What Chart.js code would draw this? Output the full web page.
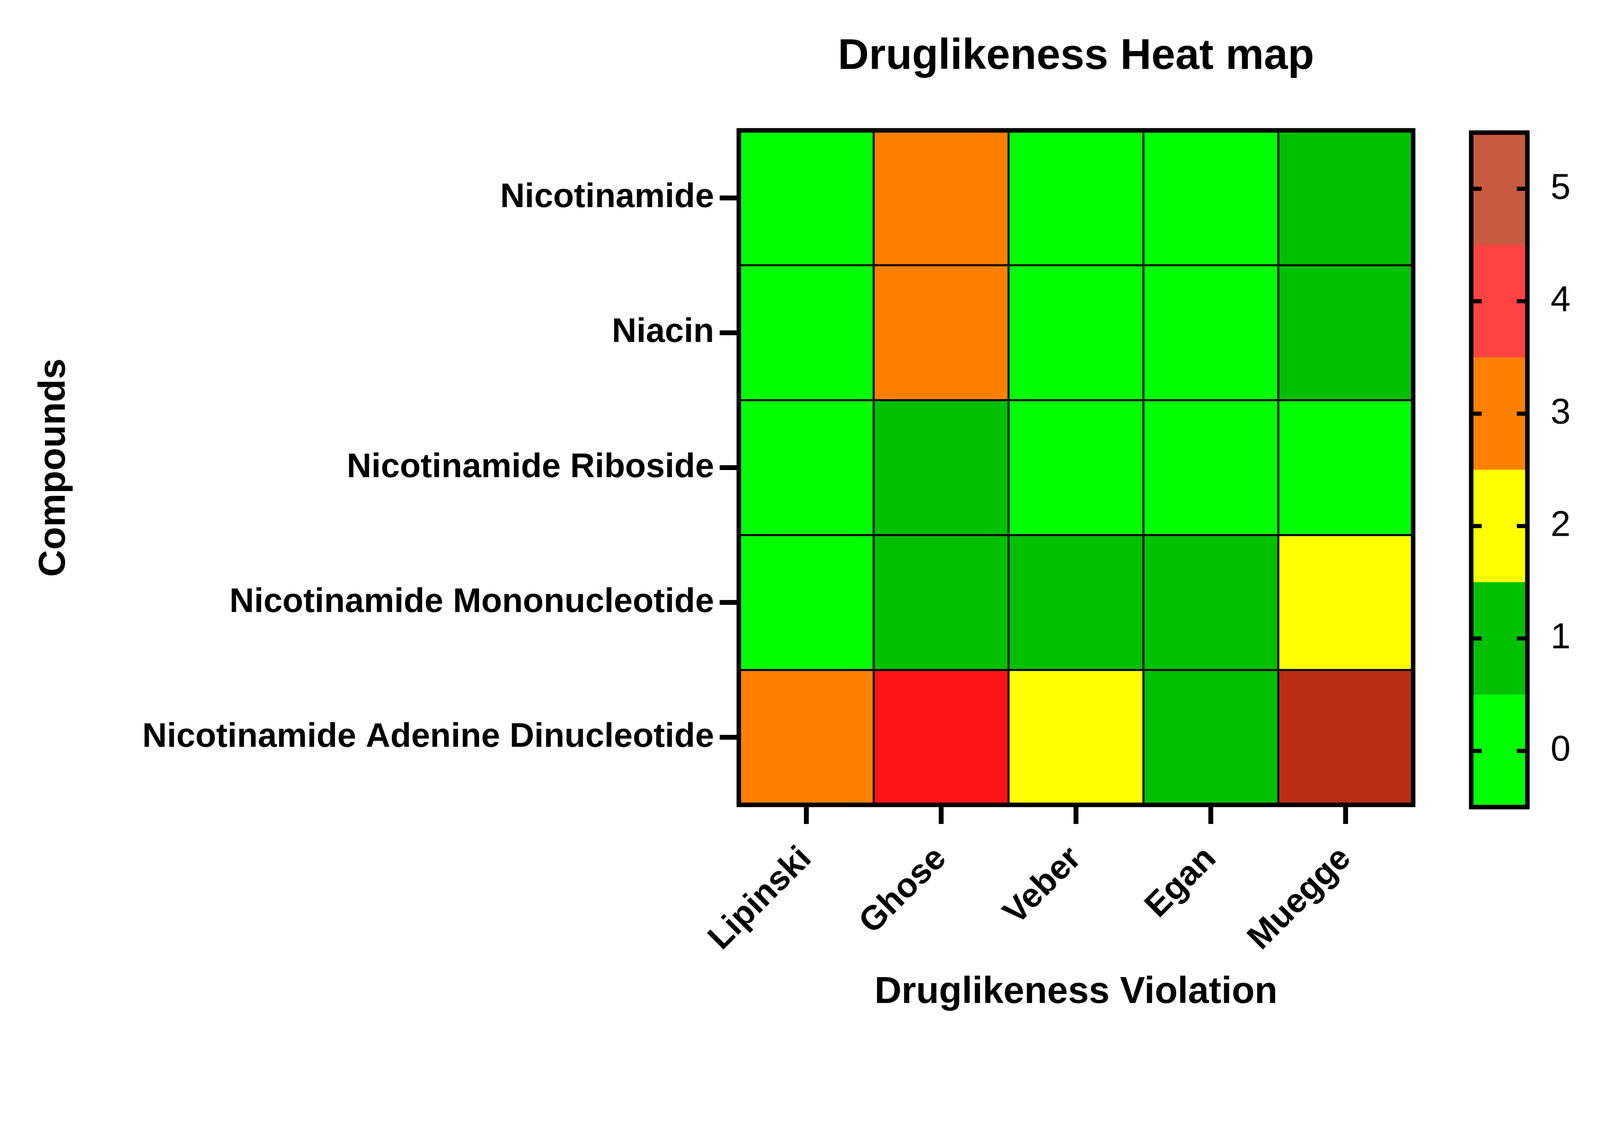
<!DOCTYPE html>
<html>
<head>
<meta charset="utf-8">
<title>Druglikeness Heat map</title>
<script src="https://cdn.jsdelivr.net/npm/chart.js@4.4.1/dist/chart.umd.min.js"></script>
<style>
  html, body { margin: 0; padding: 0; overflow: hidden; background: #fff; }
  #wrap { position: relative; width: 4273px; height: 2900px; }
  canvas { position: absolute; left: 0; top: 0; width: 100% !important; height: 100% !important; }
</style>
</head>
<body>
<div id="wrap">
  <canvas id="heat" width="4273" height="2900"></canvas>
  <canvas id="key" width="4273" height="2900"></canvas>
</div>
<script>
const rules = ['Lipinski', 'Ghose', 'Veber', 'Egan', 'Muegge'];
const compounds = ['Nicotinamide', 'Niacin', 'Nicotinamide Riboside',
  'Nicotinamide Mononucleotide', 'Nicotinamide Adenine Dinucleotide'];

// violations per rule, one array per compound (top row first)
const nicotinamide = [0, 3, 0, 0, 1];
const niacin = [0, 3, 0, 0, 1];
const riboside = [0, 1, 0, 0, 0];
const mononucleotide = [0, 1, 1, 1, 2];
const nad = [3, 4, 2, 1, 5];

const keyTicks = [0, 1, 2, 3, 4, 5];

// colours as they appear in the cells and in the colour bar
const cellColors = ['#00ff00', '#00c000', '#ffff00', '#ff8000', '#ff1515', '#bb2e12'];
const keyColors = ['#00ff00', '#00c000', '#ffff00', '#ff8000', '#ff4343', '#c85a40'];

const rows = [nicotinamide, niacin, riboside, mononucleotide, nad];

// fit the drawing to the visible width, keep the 4273x2900 aspect
const wrap = document.getElementById('wrap');
const viewW = document.documentElement.clientWidth || window.innerWidth || 4273;
wrap.style.width = viewW + 'px';
wrap.style.height = (viewW * 2900 / 4273) + 'px';

Chart.defaults.font.family = "'Liberation Sans', Arial, sans-serif";
Chart.defaults.color = '#000';

const frame = {
  id: 'frame',
  afterDraw(chart) {
    const {ctx, chartArea: a} = chart;
    ctx.save();
    ctx.lineWidth = 12;
    ctx.strokeStyle = '#000';
    ctx.strokeRect(a.left, a.top, a.right - a.left, a.bottom - a.top);
    ctx.restore();
  }
};

const inwardTicks = {
  id: 'inwardTicks',
  afterDatasetsDraw(chart) {
    const {ctx, chartArea: a, scales: {y}} = chart;
    ctx.save();
    ctx.lineWidth = 11;
    ctx.strokeStyle = '#000';
    keyTicks.forEach(v => {
      const py = y.getPixelForValue(v);
      ctx.beginPath();
      ctx.moveTo(a.left, py);
      ctx.lineTo(a.left + 28, py);
      ctx.moveTo(a.right - 28, py);
      ctx.lineTo(a.right, py);
      ctx.stroke();
    });
    ctx.restore();
  }
};

new Chart(document.getElementById('heat'), {
  type: 'bar',
  data: {
    labels: rules,
    datasets: rows.map((vals, i) => ({
      label: compounds[i],
      data: vals.map(() => [i, i + 1]),
      backgroundColor: vals.map(v => cellColors[v]),
      borderColor: '#000',
      borderWidth: 3,
      borderSkipped: false,
      barPercentage: 1,
      categoryPercentage: 1,
      grouped: false
    }))
  },
  options: {
    responsive: false,
    devicePixelRatio: 1,
    animation: false,
    layout: { padding: { left: 0, top: 0, right: 499, bottom: 0 } },
    plugins: {
      legend: { display: false },
      tooltip: { enabled: false },
      title: {
        display: true,
        text: 'Druglikeness Heat map',
        fullSize: false,
        color: '#000',
        font: { size: 115, weight: 'bold' },
        padding: { top: 83, bottom: 127 }
      }
    },
    scales: {
      x: {
        type: 'category',
        afterFit: s => { s.height = 751; },
        border: { display: false },
        grid: { offset: false, drawOnChartArea: false, tickLength: 51, tickWidth: 13, tickColor: '#000' },
        ticks: {
          autoSkip: false, maxRotation: 45, minRotation: 45, padding: 40,
          color: '#000', font: { size: 91, weight: 'bold' }
        },
        title: {
          display: true, text: 'Druglikeness Violation', color: '#000',
          font: { size: 100, weight: 'bold' }, padding: { top: 0, bottom: 190 }
        }
      },
      y: {
        type: 'linear',
        min: 0,
        max: 5,
        reverse: true,
        afterFit: s => { s.width = 1973; },
        afterBuildTicks: s => { s.ticks = compounds.map((c, i) => ({ value: i + 0.5 })); },
        border: { display: false },
        grid: { drawOnChartArea: false, tickLength: 51, tickWidth: 13, tickColor: '#000' },
        ticks: {
          padding: 15, color: '#000', font: { size: 91, weight: 'bold' },
          callback: v => compounds[Math.floor(v)]
        },
        title: {
          display: true, text: 'Compounds', color: '#000',
          font: { size: 100, weight: 'bold' }, padding: { top: 85, bottom: 0 }
        }
      }
    }
  },
  plugins: [frame]
});

new Chart(document.getElementById('key'), {
  type: 'bar',
  data: {
    labels: ['key'],
    datasets: keyTicks.map(v => ({
      data: [[v - 0.5, v + 0.5]],
      backgroundColor: keyColors[v],
      borderWidth: 0,
      barPercentage: 1,
      categoryPercentage: 1,
      grouped: false
    }))
  },
  options: {
    responsive: false,
    devicePixelRatio: 1,
    animation: false,
    layout: { padding: { left: 3929, top: 354, right: 0, bottom: 745 } },
    plugins: { legend: { display: false }, tooltip: { enabled: false } },
    scales: {
      x: { type: 'category', display: false },
      y: {
        type: 'linear',
        position: 'right',
        min: -0.5,
        max: 5.5,
        afterFit: s => { s.width = 194; },
        afterBuildTicks: s => { s.ticks = keyTicks.map(v => ({ value: v })); },
        border: { display: false },
        grid: { display: false },
        ticks: { padding: 54, color: '#000', font: { size: 96 } }
      }
    }
  },
  plugins: [inwardTicks, frame]
});
</script>
</body>
</html>
